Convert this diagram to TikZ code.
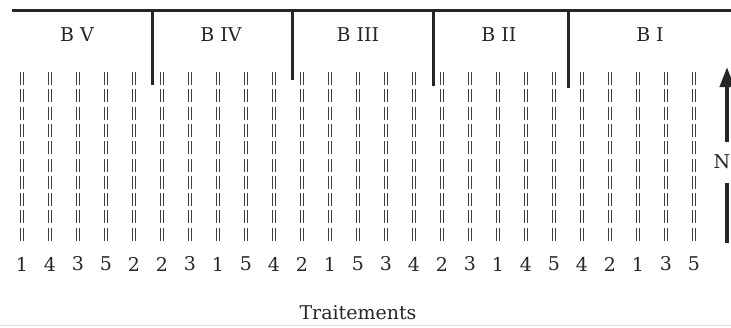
\documentclass[tikz,border=0pt]{standalone}
\usepackage{fontspec}
\setmainfont{DejaVu Serif}
\usetikzlibrary{arrows.meta}
\begin{document}
\begin{tikzpicture}[x=1pt,y=-1pt,
  font=\fontsize{19}{23}\selectfont,
  rule/.style={line width=3pt, black!85, line cap=butt},
  plotline/.style={line width=1pt, black!75, dash pattern=on 13pt off 4.3pt},
  txt/.style={inner sep=0pt, text=black!85},
  northarrow/.style={line width=4pt, black!85}]
\useasboundingbox (0,0) rectangle (731,327);
% top rule
\coordinate (tl) at (12,10);
\coordinate (tr) at (731,10);
\draw[rule] (tl) -- (tr);
% block dividers
\foreach \x/\e [count=\k] in {152/85,292/80,433/86,568/88}{
  \coordinate (dt\k) at (\x,10);
  \coordinate (db\k) at (\x,\e);
  \draw[rule] (dt\k) -- (db\k);
}
% block labels
\node[txt] (bV)   at (77,35)  {B V};
\node[txt] (bIV)  at (221,35) {B IV};
\node[txt] (bIII) at (358,35) {B III};
\node[txt] (bII)  at (499,35) {B II};
\node[txt] (bI)   at (650,35) {B I};
% plots
\foreach \d [count=\i from 0] in {1,4,3,5,2,2,3,1,5,4,2,1,5,3,4,2,3,1,4,5,4,2,1,3,5}{
  \pgfmathsetmacro\xx{22+28*\i}
  \coordinate (la\i) at (\xx-1.8,72);
  \coordinate (lb\i) at (\xx-1.8,243);
  \coordinate (ra\i) at (\xx+1.8,72);
  \coordinate (rb\i) at (\xx+1.8,243);
  \draw[plotline] (la\i) -- (lb\i);
  \draw[plotline] (ra\i) -- (rb\i);
  \node[txt] (t\i) at (\xx,264) {\d};
}
% north arrow
\node[inner xsep=0pt, inner ysep=12pt, text=black!85] (N) at (722,162) {N};
\coordinate (ntip) at (727,67);
\coordinate (nbot) at (727,243);
\coordinate (nup) at (727,142);
\coordinate (ndn) at (727,183);
\draw[northarrow, -{Triangle[width=14pt,length=20pt]}] (nup) -- (ntip);
\draw[northarrow, line cap=butt] (ndn) -- (nbot);
% caption
\node[txt] (cap) at (358,313) {Traitements};
% faint page edge
\coordinate (pl) at (0,325.5);
\coordinate (pr) at (731,325.5);
\draw[black!12, line width=1pt] (pl) -- (pr);
\end{tikzpicture}
\end{document}
